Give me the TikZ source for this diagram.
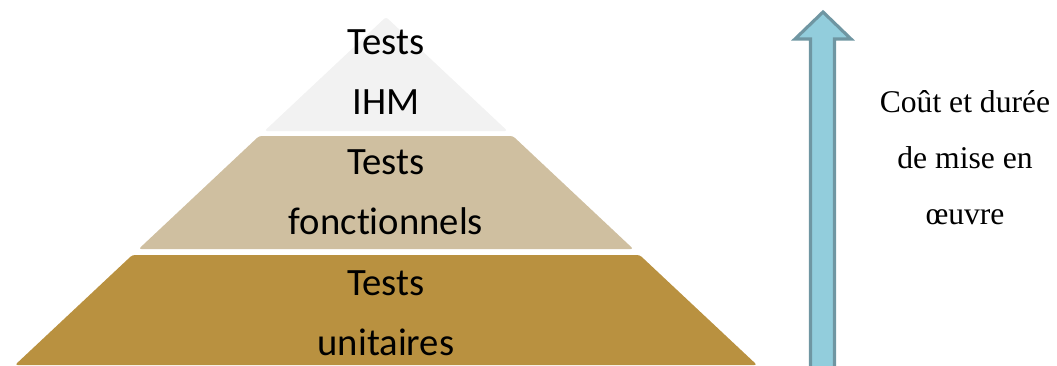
\documentclass[tikz,border=0pt]{standalone}
\usepackage{fontspec}
\setmainfont{Liberation Serif}
\newfontfamily\layerfont[Ligatures=NoCommon]{Carlito}
\usetikzlibrary{positioning}
\definecolor{topcolor}{RGB}{242, 242, 242}
\definecolor{midcolor}{RGB}{207, 191, 160}
\definecolor{basecolor}{RGB}{185, 145, 64}
\definecolor{arrowfill}{RGB}{146, 205, 220}
\definecolor{arrowedge}{RGB}{111, 150, 162}
\tikzset{
    % Pyramid layers
    layer/.style={rounded corners=1.5pt},
    layertext/.style={align=center, font=\layerfont\fontsize{22}{34}\selectfont, text=black},
    % Cost arrow
    costarrow/.style={fill=arrowfill, draw=arrowedge, line width=1.8pt, line join=miter},
    sidelabel/.style={align=center, font=\fontsize{18}{31.8}\selectfont, text=black},
}
\begin{document}
\begin{tikzpicture}[x=0.02cm, y=-0.02cm]
\useasboundingbox (0,0) rectangle (1057,365);

% Layers, bottom to top
\fill[layer, basecolor] (132.3,255) -- (639.7,255) -- (757,365) -- (15,365) -- cycle;
\fill[layer, midcolor] (259.1,136) -- (512.9,136) -- (633.3,249) -- (138.7,249) -- cycle;
\fill[layer, topcolor] (386,17) -- (507.5,131) -- (264.5,131) -- cycle;

% Layer labels
\node[layertext] (ihm) at (386,72) {Tests\\IHM};
\node[layertext] (fonct) at (386,192) {Tests\\fonctionnels};
\node[layertext] (unit) at (386,313) {Tests\\unitaires};

% Arrow
\draw[costarrow] (810.5,368) -- (810.5,39) -- (795,39) -- (823,12) -- (851,39)
    -- (834.5,39) -- (834.5,368) -- cycle;

% Side label
\node[sidelabel] (cost) at (965,158) {Coût et durée\\de mise en\\œuvre};

\end{tikzpicture}
\end{document}
